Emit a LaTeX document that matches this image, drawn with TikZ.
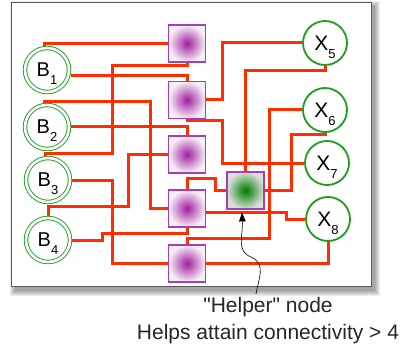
\documentclass[tikz,border=0pt]{standalone}
\usepackage{fontspec}
\setmainfont{Liberation Sans}
\newfontfamily\notefont{Liberation Sans}[Ligatures=TeXOff]
\usetikzlibrary{arrows.meta}
\definecolor{wirecol}{RGB}{255,45,0}
\definecolor{grn}{RGB}{30,158,30}
\definecolor{purp}{RGB}{166,62,180}
\definecolor{purpin}{RGB}{160,30,160}
\definecolor{purpout}{RGB}{246,238,246}
\definecolor{grnin}{RGB}{0,120,0}
\definecolor{grnout}{RGB}{214,224,214}
\newcommand\sublbl[2]{#1\smash{\raisebox{-8pt}{\fontsize{13}{13}\selectfont #2}}}
\tikzset{
  wire/.style={draw=wirecol, line width=3pt, line join=miter},
  bnode/.style={circle, draw=grn, double=white, double distance=2.6pt, line width=0.9pt,
    minimum size=44pt, inner sep=0pt, outer sep=2.2pt, fill=white,
    font=\fontsize{20}{20}\selectfont},
  xnode/.style={circle, draw=grn, line width=1.8pt, minimum size=44pt, inner sep=0pt,
    fill=white, font=\fontsize{21}{21}\selectfont},
  relay/.style={rectangle, draw=purp, line width=1.8pt, minimum size=37pt, inner sep=0pt,
    inner color=purpin, outer color=purpout},
  helper/.style={rectangle, draw=purp, line width=1.8pt, minimum size=37pt, inner sep=0pt,
    inner color=grnin, outer color=grnout},
  notetext/.style={font=\notefont\fontsize{21}{27}\selectfont, align=center, text=black!85},
  pointer/.style={draw=black, line width=0.6pt, -{Triangle[length=9pt,width=6.5pt]}}
}
\begin{document}
\begin{tikzpicture}[x=1pt,y=-1pt]
\useasboundingbox (0,0) rectangle (404,350);
% frame with soft shadow
\foreach \d in {0,1,2,3,4,5}{
  \fill[black, opacity=0.07] (15-\d,6-\d) rectangle (375+\d,291+\d);
}
\draw[draw=black!65, line width=0.8pt, fill=white] (11,2) rectangle (371,286);

% nodes
\node[bnode] (B1) at (47,70) {\sublbl{B}{1}};
\node[bnode] (B2) at (47,127) {\sublbl{B}{2}};
\node[bnode] (B3) at (48,180) {\sublbl{B}{3}};
\node[bnode] (B4) at (48,240) {\sublbl{B}{4}};

\node[xnode] (X5) at (325,43) {\sublbl{X}{5}};
\node[xnode] (X6) at (325,110) {\sublbl{X}{6}};
\node[xnode] (X7) at (327,163) {\sublbl{X}{7}};
\node[xnode] (X8) at (328,219) {\sublbl{X}{8}};

\node[relay] (P1) at (187,43.5) {};
\node[relay] (P2) at (187,100) {};
\node[relay] (P3) at (187,154.5) {};
\node[relay] (P4) at (187,208.5) {};
\node[relay] (P5) at (187,263.5) {};
\node[helper] (G) at (245.5,190.5) {};

% wires
\draw[wire] (B1.97) |- (P1.west);
\draw[wire] (B1.-12) -| (P2.north);
\draw[wire] (P1.south) |- (112,66) -- (112,153) -| (B3.97);
\draw[wire] (B2.96) |- (150,102) |- (P4.west);
\draw[wire] (B2.east) -| (P3.north);
\draw[wire] (P2.south) |- (222,121) |- (X7.west);
\draw[wire] (P2.east) -| (222,43) -- (X5.west);
\draw[wire] (X5.south) |- (245.5,71) -- (G.north);
\draw[wire] (X6.west) -| (269,238) -| (P5.north);
\draw[wire] (X6.south) |- (291,135) |- (G.east);
\draw[wire] (B3.east) -| (112,263.5) -- (P5.west);
\draw[wire] (B4.north) |- (128,206) |- (P3.west);
\draw[wire] (B4.east) -| (102,233) -| (P4.south);
\draw[wire] (P4.north) |- (215,178) |- (G.west);
\draw[wire] ([yshift=-4pt]P4.east) -| (286,219) -- (X8.west);
\draw[wire] (P5.east) -| (X8.south);

% annotation
\node[notetext] (note) at (268,321) {"Helper" node\\Helps attain connectivity > 4};
\coordinate (tail) at (256,294);
\draw[pointer] (tail) .. controls (258,280) and (267,264) .. (251,257)
  .. controls (236,251) and (243,236) .. ([xshift=-3.5pt,yshift=-2.5pt]G.south);
\end{tikzpicture}
\end{document}
